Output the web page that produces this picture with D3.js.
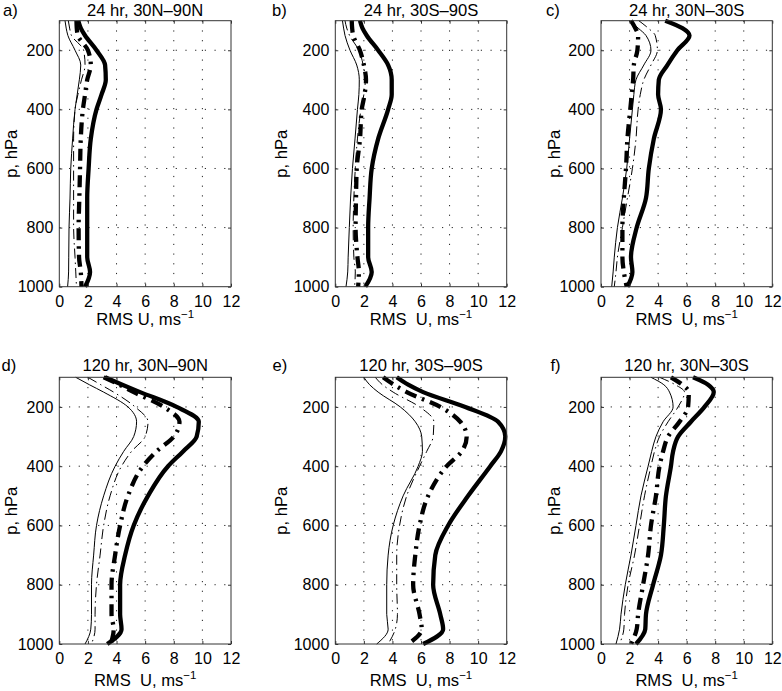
<!DOCTYPE html>
<html><head><meta charset="utf-8">
<script src="https://cdn.jsdelivr.net/npm/d3@7"></script>
<style>
body{margin:0;background:#fff}
svg{display:block;font-family:"Liberation Sans",Arial,Helvetica,sans-serif}
</style>
</head><body>
<svg id="chart" width="782" height="691"></svg>
<script>
// ---------------- data ----------------
const levels = [100,125,150,200,250,300,350,400,500,600,700,800,900,950,1000];
const xTicks = [0,2,4,6,8,10,12];
const yTicks = [200,400,600,800,1000];
const panelLetters = ["a)","b)","c)","d)","e)","f)"];
const panelTitles = ["24 hr, 30N\u201390N","24 hr, 30S\u201390S","24 hr, 30N\u201330S",
                     "120 hr, 30N\u201390N","120 hr, 30S\u201390S","120 hr, 30N\u201330S"];

// panel a) 24 hr, 30N-90N
const aThinSolid    = [0.4,0.48,0.6,1.1,1.5,1.4,1.25,1.1,0.93,0.8,0.75,0.68,0.66,0.65,0.58];
const aThinDashDot  = [0.63,0.72,0.85,1.7,1.8,1.55,1.3,1.1,1.0,1.0,1.0,1.0,1.1,1.15,1.2];
const aThickDashDot = [1.2,1.22,1.3,2.0,2.2,1.95,1.8,1.65,1.5,1.45,1.4,1.35,1.38,1.5,1.55];
const aThickSolid   = [1.33,1.5,1.8,2.6,3.2,3.25,2.95,2.6,2.2,2.05,1.95,1.95,1.95,2.15,1.8];
// panel b) 24 hr, 30S-90S
const bThinSolid    = [0.5,0.58,0.68,1.03,1.5,1.68,1.65,1.55,1.38,1.2,1.07,0.98,0.9,0.87,0.75];
const bThinDashDot  = [0.68,0.8,1.0,1.65,1.95,2.1,2.0,1.8,1.55,1.4,1.3,1.25,1.3,1.4,1.35];
const bThickDashDot = [1.15,1.18,1.25,1.72,2.0,2.15,2.05,1.85,1.73,1.5,1.45,1.42,1.55,1.65,1.6];
const bThickSolid   = [1.73,1.9,2.2,3.0,3.7,3.95,3.95,3.7,3.0,2.55,2.4,2.3,2.3,2.55,2.1];
// panel c) 24 hr, 30N-30S
const cThinSolid    = [2.0,2.6,3.15,3.5,3.0,2.45,2.3,2.2,2.0,1.8,1.5,1.15,0.93,0.85,0.75];
const cThinDashDot  = [2.65,3.3,3.8,3.95,3.5,3.0,2.75,2.6,2.45,2.2,1.85,1.5,1.15,1.05,0.93];
const cThickDashDot = [2.1,2.4,2.6,2.55,2.3,2.25,2.15,2.05,1.85,1.75,1.6,1.5,1.5,1.6,1.8];
const cThickSolid   = [4.5,5.7,6.2,5.35,4.65,4.05,4.0,4.2,3.7,3.35,3.15,2.5,2.1,2.2,1.85];
// panel d) 120 hr, 30N-90N
const dThinSolid    = [1.15,2.1,3.1,4.8,5.4,5.2,4.5,3.9,3.1,2.6,2.4,2.25,2.25,2.2,1.8];
const dThinDashDot  = [2.0,2.9,3.8,5.3,6.2,6.0,5.05,4.35,3.55,3.1,2.85,2.6,2.5,2.5,2.25];
const dThickDashDot = [3.1,4.2,5.2,7.3,8.4,8.0,6.8,5.85,4.8,4.25,3.9,3.65,3.65,3.8,3.6];
const dThickSolid   = [3.2,4.4,5.65,8.2,9.75,9.6,8.65,7.6,6.2,5.2,4.6,4.25,4.25,4.35,3.35];
// panel e) 120 hr, 30S-90S
const eThinSolid    = [2.0,2.4,3.0,4.55,5.6,6.05,6.1,5.8,4.75,4.05,3.7,3.6,3.6,3.7,2.9];
const eThinDashDot  = [2.8,3.3,4.05,5.9,6.9,6.85,6.4,5.9,5.0,4.5,4.3,4.3,4.35,4.2,3.7];
const eThickDashDot = [3.35,4.1,5.0,7.35,8.75,9.2,8.85,7.8,6.5,5.9,5.6,5.45,5.9,6.05,5.1];
const eThickSolid   = [4.3,5.1,6.15,9.1,11.4,11.9,11.6,10.85,9.3,7.9,7.0,6.85,7.35,7.55,6.15];
// panel f) 120 hr, 30N-30S
const fThinSolid    = [3.5,4.4,4.8,5.05,4.35,3.85,3.55,3.3,2.8,2.45,2.1,1.7,1.4,1.3,1.05];
const fThinDashDot  = [4.1,5.2,5.85,5.4,4.7,4.1,3.75,3.5,3.05,2.7,2.35,1.9,1.65,1.6,1.3];
const fThickDashDot = [4.9,5.7,6.15,6.1,5.5,4.7,4.35,4.1,3.85,3.5,3.3,2.95,2.6,2.5,2.1];
const fThickSolid   = [6.45,7.5,7.9,7.25,6.3,5.4,5.05,4.9,4.55,4.4,4.2,3.65,3.15,3.1,2.45];

const panelSeries = [
  [aThinSolid,aThinDashDot,aThickDashDot,aThickSolid],
  [bThinSolid,bThinDashDot,bThickDashDot,bThickSolid],
  [cThinSolid,cThinDashDot,cThickDashDot,cThickSolid],
  [dThinSolid,dThinDashDot,dThickDashDot,dThickSolid],
  [eThinSolid,eThinDashDot,eThickDashDot,eThickSolid],
  [fThinSolid,fThinDashDot,fThickDashDot,fThickSolid]
];

// ---------------- layout / styles ----------------
const colLeft  = [59.3, 335.3, 601];
const colRight = [231, 506.7, 772.3];
const rowTop = [20.7, 377.3];
const rowBottom = [286.7, 644];
const letterX = [3, 272, 546, 1.5, 272.5, 550.5];
const ylabX = [16.5, 286.5, 559.5];
const xlabBase = [325, 686];
const titleBase = [15.5, 371];
const lineStyles = [
  {w:1,   dash:null},
  {w:1,   dash:"10,4,1.5,4"},
  {w:4.3, dash:"12,6,2.5,6"},
  {w:4.3, dash:null}
];

const svg = d3.select("#chart");
const FS = 16;
const LFS = 16.6;

panelSeries.forEach((series, i) => {
  const col = i % 3, row = Math.floor(i / 3);
  const L = colLeft[col], R = colRight[col], T = rowTop[row], B = rowBottom[row];
  const x = d3.scaleLinear().domain([0,12]).range([L,R]);
  const y = d3.scaleLinear().domain([100,1000]).range([T,B]);
  const g = svg.append("g");

  // grid
  g.append("g").selectAll("line").data(xTicks.filter(t => t > 0 && t < 12)).join("line")
    .attr("x1", d => x(d)).attr("x2", d => x(d)).attr("y1", T).attr("y2", B)
    .attr("stroke", "#222").attr("stroke-width", 1).attr("stroke-dasharray", "1.2,8.5");
  g.append("g").selectAll("line").data(yTicks.filter(t => t < 1000)).join("line")
    .attr("y1", d => y(d)).attr("y2", d => y(d)).attr("x1", L).attr("x2", R)
    .attr("stroke", "#222").attr("stroke-width", 1).attr("stroke-dasharray", "1.2,8.5");

  // profiles
  const line = d3.line().x(d => x(d[1])).y(d => y(d[0])).curve(d3.curveMonotoneY);
  series.forEach((vals, k) => {
    const st = lineStyles[k];
    g.append("path")
      .datum(levels.map((p, j) => [p, vals[j]]))
      .attr("d", line)
      .attr("fill", "none")
      .attr("stroke", "#000")
      .attr("stroke-width", st.w)
      .attr("stroke-linejoin", "round")
      .attr("stroke-dasharray", st.dash);
  });

  // axes
  const fmt = d3.format("d");
  const ax = d3.axisBottom(x).tickValues(xTicks).tickFormat(fmt).tickSizeInner(-3).tickSizeOuter(0).tickPadding(9);
  const ay = d3.axisLeft(y).tickValues(yTicks).tickFormat(fmt).tickSizeInner(-3).tickSizeOuter(0).tickPadding(6);
  const axT = d3.axisTop(x).tickValues(xTicks).tickSizeInner(-3).tickSizeOuter(0).tickFormat("");
  const ayR = d3.axisRight(y).tickValues(yTicks).tickSizeInner(-3).tickSizeOuter(0).tickFormat("");
  g.append("g").attr("transform", `translate(0,${B})`).call(ax);
  g.append("g").attr("transform", `translate(${L},0)`).call(ay);
  g.append("g").attr("transform", `translate(0,${T})`).call(axT);
  g.append("g").attr("transform", `translate(${R},0)`).call(ayR);
  g.selectAll(".domain").remove();
  g.selectAll(".tick line").attr("stroke", "#333");
  g.selectAll(".tick text").attr("font-size", FS).attr("fill", "#000")
    .attr("font-family", "'Liberation Sans',Arial,sans-serif");

  // box
  g.append("rect").attr("x", L).attr("y", T).attr("width", R - L).attr("height", B - T)
    .attr("fill", "none").attr("stroke", "#333").attr("stroke-width", 1);

  // title
  svg.append("text").attr("x", (L + R) / 2).attr("y", titleBase[row])
    .attr("text-anchor", "middle").attr("font-size", LFS).text(panelTitles[i]);
  svg.append("text").attr("x", letterX[i]).attr("y", titleBase[row])
    .attr("font-size", LFS).text(panelLetters[i]);

  // y label
  svg.append("text")
    .attr("transform", `translate(${ylabX[col]},${(T + B) / 2}) rotate(-90)`)
    .attr("text-anchor", "middle").attr("font-size", LFS).text("p, hPa");

  // x label
  const xl = svg.append("text").attr("x", (L + R) / 2).attr("y", xlabBase[row])
    .attr("text-anchor", "middle").attr("font-size", LFS);
  xl.append("tspan").text(i === 0 ? "RMS U, ms" : "RMS\u00a0\u00a0U, ms");
  xl.append("tspan").attr("dy", -7).attr("font-size", 11.5).text("\u22121");
});
</script>
</body></html>
